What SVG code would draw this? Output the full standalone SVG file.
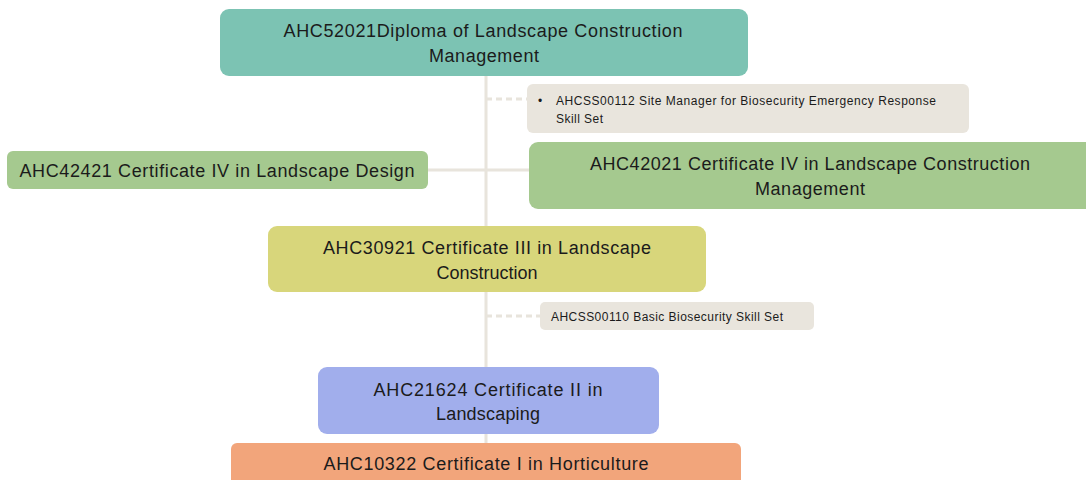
<svg xmlns="http://www.w3.org/2000/svg" width="1086" height="480" viewBox="0 0 1086 480">
<style>
.t{font-family:"Liberation Sans",Arial,sans-serif;font-size:18px;fill:#1b1b1b;text-anchor:middle}
.s{font-family:"Liberation Sans",Arial,sans-serif;font-size:12px;fill:#1b1b1b}
.ln{stroke:#E8E4DC;stroke-width:3;fill:none}
.ds{stroke:#E8E4DC;stroke-width:3;fill:none;stroke-dasharray:6 4}
</style>
<rect width="1086" height="480" fill="#FFFFFF"/>
<g id="connectors">
<line class="ln" x1="486" y1="76" x2="486" y2="443"/>
<line class="ds" x1="486" y1="99" x2="527" y2="99"/>
<line class="ln" x1="428" y1="170" x2="529" y2="170"/>
<line class="ds" x1="486" y1="316" x2="540" y2="316"/>
</g>
<g id="diploma">
<rect x="220" y="9" width="528" height="67" rx="9" fill="#7CC3B3"/>
<text class="t" x="483" y="37" textLength="399">AHC52021Diploma of Landscape Construction</text>
<text class="t" x="484" y="62" textLength="110">Management</text>
</g>
<g id="skillset-site-manager">
<rect x="527" y="84" width="442" height="49" rx="6" fill="#E9E5DD"/>
<text class="s" x="538" y="105">•</text>
<text class="s" x="556" y="105" textLength="380">AHCSS00112 Site Manager for Biosecurity Emergency Response</text>
<text class="s" x="556" y="123" textLength="47">Skill Set</text>
</g>
<g id="cert4-design">
<rect x="7" y="151" width="421" height="38" rx="6" fill="#A5C98F"/>
<text class="t" x="217" y="177" textLength="395">AHC42421 Certificate IV in Landscape Design</text>
</g>
<g id="cert4-construction">
<rect x="529" y="142" width="565" height="67" rx="9" fill="#A5C98F"/>
<text class="t" x="810" y="170" textLength="440">AHC42021 Certificate IV in Landscape Construction</text>
<text class="t" x="810" y="195" textLength="110">Management</text>
</g>
<g id="cert3">
<rect x="268" y="226" width="438" height="66" rx="9" fill="#D8D67B"/>
<text class="t" x="487" y="254" textLength="328">AHC30921 Certificate III in Landscape</text>
<text class="t" x="487" y="279" textLength="101">Construction</text>
</g>
<g id="skillset-basic">
<rect x="540" y="302" width="274" height="28" rx="5" fill="#E9E5DD"/>
<text class="s" x="551" y="321" textLength="232">AHCSS00110 Basic Biosecurity Skill Set</text>
</g>
<g id="cert2">
<rect x="318" y="367" width="341" height="67" rx="9" fill="#A1AEEC"/>
<text class="t" x="488" y="396" textLength="229">AHC21624 Certificate II in</text>
<text class="t" x="488" y="420" textLength="104">Landscaping</text>
</g>
<g id="cert1">
<rect x="231" y="443" width="510" height="50" rx="6" fill="#F2A57B"/>
<text class="t" x="486" y="470" textLength="325">AHC10322 Certificate I in Horticulture</text>
</g>
</svg>
